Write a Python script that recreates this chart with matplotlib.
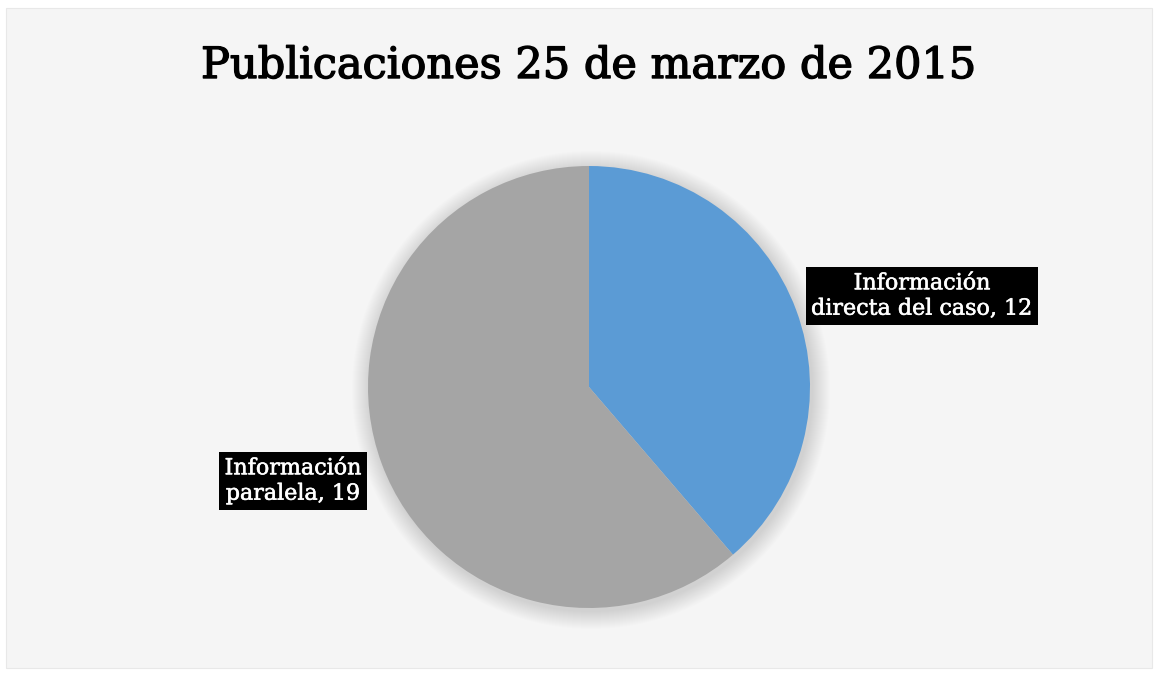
import matplotlib.pyplot as plt
import matplotlib.patheffects as pe
from matplotlib.patches import Circle, Rectangle

# Publicaciones por tipo de información
categorias = ["Información\ndirecta del caso", "Información\nparalela"]
valores = [12, 19]
colores = ["#5B9BD5", "#A5A5A5"]
titulo = "Publicaciones 25 de marzo de 2015"

W, H = 1158, 674
fig = plt.figure(figsize=(W / 100, H / 100), dpi=100)
fig.patch.set_facecolor("white")
ax = fig.add_axes([0, 0, 1, 1])
ax.set_xlim(0, W)
ax.set_ylim(0, H)
ax.set_aspect("equal")
ax.axis("off")

# chart area background
ax.add_patch(Rectangle((6, 6), W - 12, H - 14, facecolor="#F5F5F5",
                       edgecolor="#E8E8E8", lw=0.8, zorder=0))

cx, cy, r = 589, H - 387, 221

# soft shadow around the pie
for i in range(18, 0, -1):
    ax.add_patch(Circle((cx + 2, cy - 3), r + i, facecolor="black",
                        edgecolor="none", alpha=0.009, zorder=1))

wedges, _ = ax.pie(valores, colors=colores, startangle=90, counterclock=False,
                   center=(cx, cy), radius=r, frame=True,
                   wedgeprops=dict(linewidth=0, zorder=2))
ax.set_xlim(0, W)
ax.set_ylim(0, H)
ax.axis("off")

label_pos = [(922, H - 296), (293, H - 481)]
for cat, val, (lx, ly) in zip(categorias, valores, label_pos):
    ax.text(lx, ly, f"{cat}, {val}", ha="center", va="center",
            multialignment="center",
            fontsize=16, color="white", family="DejaVu Serif",
            linespacing=1.2, zorder=5,
            path_effects=[pe.withStroke(linewidth=0.4, foreground="white")],
            bbox=dict(boxstyle="square,pad=0.25", facecolor="black",
                      edgecolor="none"))

ax.text(W / 2 + 9, H - 66, titulo, ha="center", va="center",
        fontsize=31, color="black", family="DejaVu Serif", zorder=5,
        path_effects=[pe.withStroke(linewidth=1.0, foreground="black")])

fig.savefig("out.png", dpi=100, facecolor=fig.get_facecolor())
